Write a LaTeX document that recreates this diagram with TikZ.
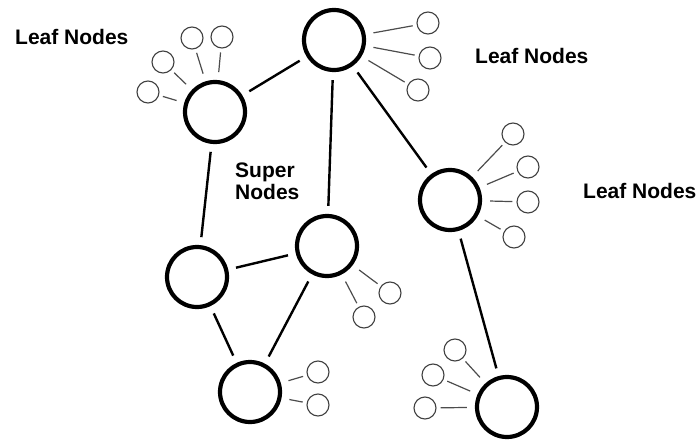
\documentclass[tikz,border=0pt]{standalone}
\usepackage{fontspec}
\setmainfont{Liberation Sans}
\begin{document}
\begin{tikzpicture}[x=1pt,y=-1pt,
  supernode/.style={circle,draw=black,line width=4.2pt,minimum size=60pt,inner sep=0pt},
  leafnode/.style={circle,draw=black!75,line width=1.1pt,minimum size=22pt,inner sep=0pt},
  superedge/.style={draw=black,line width=2.4pt,shorten >=8pt,shorten <=8pt},
  leafedge/.style={draw=black!70,line width=1.2pt,shorten >=4pt,shorten <=8pt},
  lbl/.style={inner sep=0pt,anchor=base west,font=\fontsize{21}{22}\selectfont\bfseries}]
\useasboundingbox (0,0) rectangle (698,441);
% super nodes
\node[supernode] (A) at (334,40) {};
\node[supernode] (B) at (215,112) {};
\node[supernode] (C) at (450,200) {};
\node[supernode] (D) at (327,246) {};
\node[supernode] (E) at (197,277) {};
\node[supernode] (F) at (250,392) {};
\node[supernode] (G) at (507,407) {};
% leaf nodes
\node[leafnode] (a1) at (428,23) {};
\node[leafnode] (a2) at (430,58) {};
\node[leafnode] (a3) at (418,90) {};
\node[leafnode] (b1) at (148,92) {};
\node[leafnode] (b2) at (163,62) {};
\node[leafnode] (b3) at (192,38) {};
\node[leafnode] (b4) at (222,37) {};
\node[leafnode] (c1) at (513,134) {};
\node[leafnode] (c2) at (528,167) {};
\node[leafnode] (c3) at (528,202) {};
\node[leafnode] (c4) at (514,237) {};
\node[leafnode] (d1) at (390,293) {};
\node[leafnode] (d2) at (364,317) {};
\node[leafnode] (f1) at (318,372) {};
\node[leafnode] (f2) at (318,405) {};
\node[leafnode] (g1) at (455,350) {};
\node[leafnode] (g2) at (433,375) {};
\node[leafnode] (g3) at (425,408) {};
% super edges
\draw[superedge] (A) -- (B);
\draw[superedge] (A) -- (D);
\draw[superedge] (A) -- (C);
\draw[superedge] (B) -- (E);
\draw[superedge] (D) -- (E);
\draw[superedge] (D) -- (F);
\draw[superedge] (E) -- (F);
\draw[superedge] (C) -- (G);
% leaf edges
\foreach \l in {a1,a2,a3} \draw[leafedge] (A) -- (\l);
\foreach \l in {b1,b2,b3,b4} \draw[leafedge] (B) -- (\l);
\foreach \l in {c1,c2,c3,c4} \draw[leafedge] (C) -- (\l);
\foreach \l in {d1,d2} \draw[leafedge] (D) -- (\l);
\foreach \l in {f1,f2} \draw[leafedge] (F) -- (\l);
\foreach \l in {g1,g2,g3} \draw[leafedge] (G) -- (\l);
% labels
\node[lbl] (l1) at (15,45) {Leaf Nodes};
\node[lbl] (l2) at (475,64) {Leaf Nodes};
\node[lbl] (l3) at (583,198) {Leaf Nodes};
\node[lbl] (s1) at (235,177) {Super};
\node[lbl] (s2) at (235,199) {Nodes};
\end{tikzpicture}
\end{document}
